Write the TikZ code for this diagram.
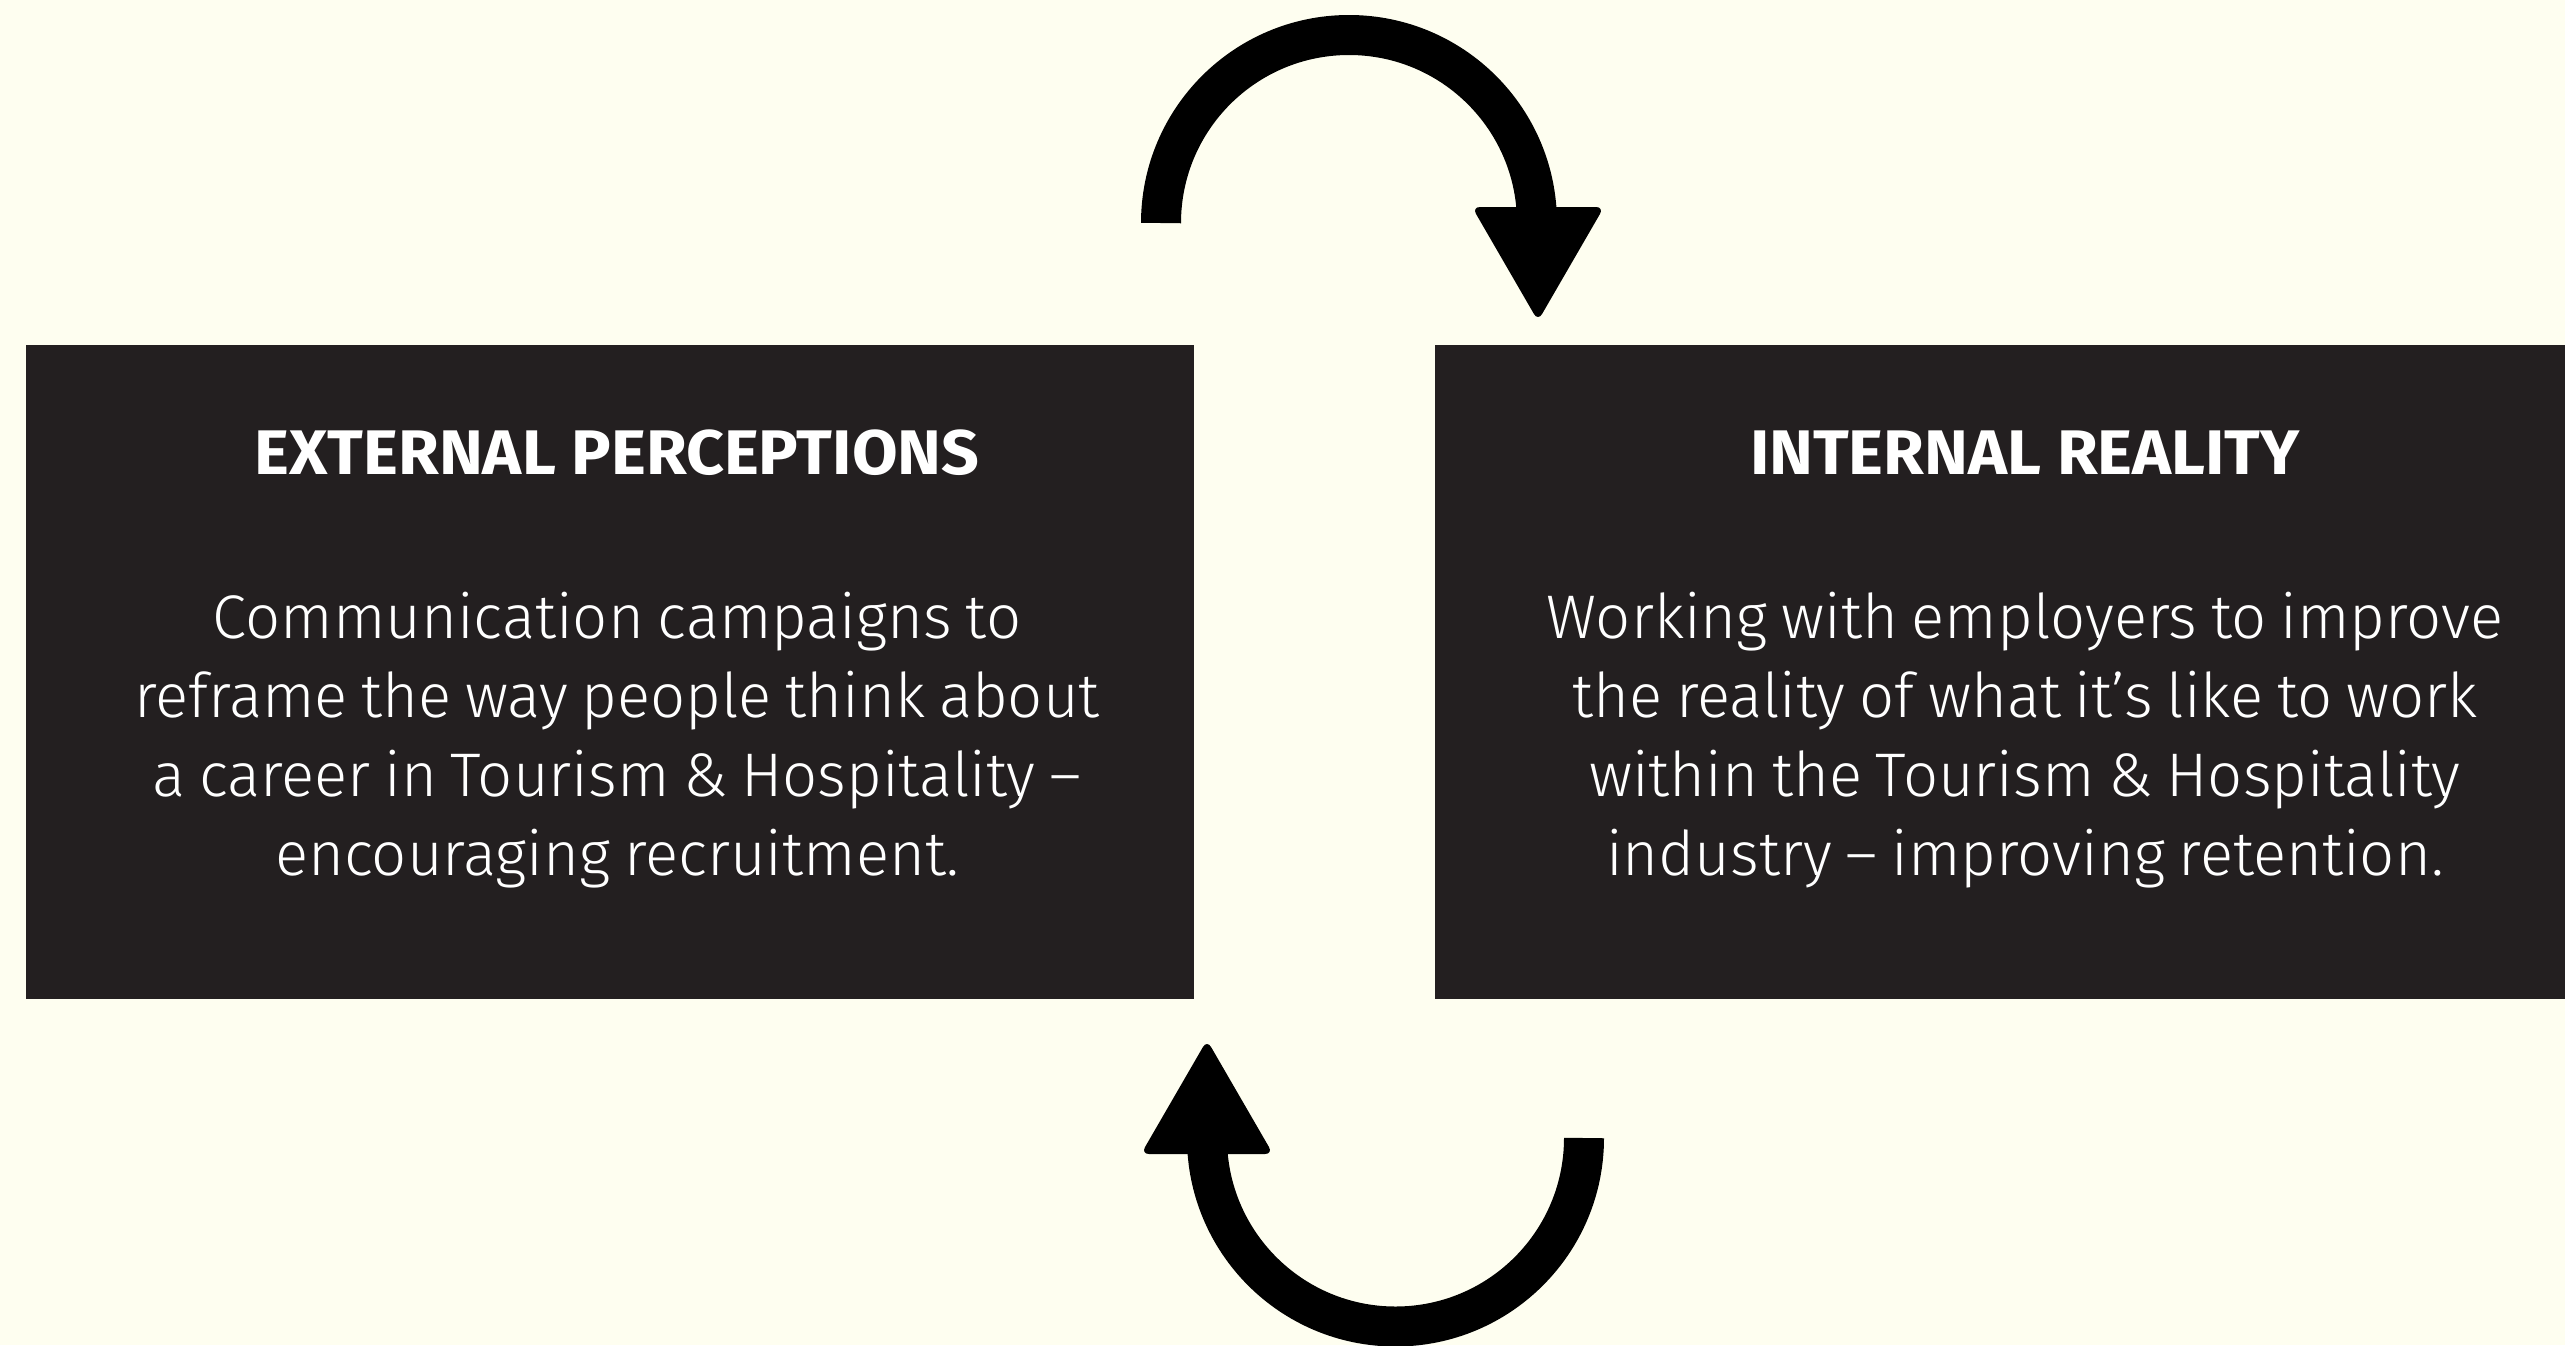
\documentclass[tikz,border=0pt]{standalone}
\usepackage{fontspec}
\setmainfont{Fira Sans}[UprightFont=* Light, BoldFont=* Bold, WordSpace=0.8]
\newfontfamily\ttlfont{Fira Sans}[UprightFont=* Bold, FakeStretch=1.05]
\definecolor{bg}{HTML}{FEFEF0}
\definecolor{boxc}{HTML}{231F20}
\begin{document}
\begin{tikzpicture}[x=0.5pt,y=-0.5pt,
  panel/.style={fill=boxc, draw=none, inner sep=0pt, outer sep=0pt, minimum height=327pt, anchor=north west},
  ttl/.style={text=white, font=\ttlfont\fontsize{31.5}{39.5}\selectfont, anchor=base, inner sep=0pt},
  bodytxt/.style={text=white, font=\fontsize{30.8}{39.5}\selectfont, align=center, anchor=base, inner sep=0pt},
  arr/.style={line width=20pt, black},
  head/.style={fill=black, rounded corners=4pt}]
\fill[bg] (0,0) rectangle (2565,1345);
\useasboundingbox (0,0) rectangle (2565,1345);
\node[panel, minimum width=584pt] (ext) at (26,345) {};
\node[panel, minimum width=565pt] (int) at (1435,345) {};
\node[ttl] (extT) at (617,474) {EXTERNAL PERCEPTIONS};
\node[bodytxt] (extB) at (617,875) {Communication campaigns to\\reframe the way people think about\\a career in Tourism \& Hospitality –\\encouraging recruitment.};
\node[ttl] (intT) at (2025,474) {INTERNAL REALITY};
\node[bodytxt] (intB) at (2025,875) {Working with employers to improve\\the reality of what it’s like to work\\within the Tourism \& Hospitality\\industry – improving retention.};
% top arrow
\draw[arr] (1161,223) arc[start angle=180, end angle=360, radius=188];
\fill[head] (1472,207) -- (1604,207) -- (1538,321) -- cycle;
% bottom arrow
\draw[arr] (1584,1138) arc[start angle=0, end angle=180, radius=188.5];
\fill[head] (1141,1154) -- (1273,1154) -- (1207,1040) -- cycle;
\end{tikzpicture}
\end{document}
